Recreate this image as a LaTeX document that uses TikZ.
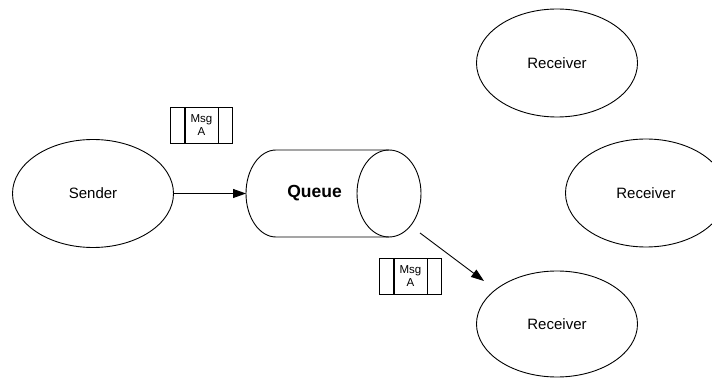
\documentclass[tikz,border=0pt]{standalone}
\usepackage{fontspec}
\setmainfont{Liberation Sans}
\usetikzlibrary{arrows.meta,shapes.geometric}
\tikzset{
  ell/.style={draw,ellipse,line width=0.9pt,inner sep=0pt,minimum width=161pt,minimum height=108pt,font=\fontsize{15}{17}\selectfont},
  conn/.style={line width=0.9pt,-{Triangle[length=13pt,width=9pt]}},
  msgcell/.style={draw,line width=0.9pt,minimum width=33pt,minimum height=36pt,inner sep=0pt,align=center,font=\fontsize{11.5}{12.5}\selectfont},
  sidecell/.style={draw,line width=0.9pt,minimum width=14pt,minimum height=36pt,inner sep=0pt},
  cyl/.style={line width=0.9pt}
}
\begin{document}
\begin{tikzpicture}[x=1pt,y=-1pt]
\useasboundingbox (0,0) rectangle (712,379);
% ellipses
\node[ell] (sender) at (93,193.5) {Sender};
\node[ell] (recv1) at (557,63) {Receiver};
\node[ell] (recv2) at (646,193) {Receiver};
\node[ell,minimum height=106pt] (recv3) at (557,324) {Receiver};
% queue cylinder
\draw[cyl] (389,150) -- (276,150) arc[start angle=90,end angle=270,x radius=30,y radius=-43.5] -- (389,237);
\draw[cyl] (389,193.5) ellipse[x radius=32,y radius=43.5];
\node[font=\bfseries\fontsize{17.5}{20}\selectfont] (queue) at (314.5,193.5) {Queue};
\coordinate (qin) at (246,193.5);
\coordinate (qout) at (420,233);
\coordinate (rin) at (484,281);
% connectors
\draw[conn] (sender.east) -- (qin);
\draw[conn] (qout) -- (rin);
% message boxes
\node[msgcell] (m1) at (201.5,125) {Msg\\A};
\node[sidecell,anchor=east] (m1l) at (m1.west) {};
\node[sidecell,anchor=west] (m1r) at (m1.east) {};
\node[msgcell] (m2) at (410.5,276) {Msg\\A};
\node[sidecell,anchor=east] (m2l) at (m2.west) {};
\node[sidecell,anchor=west] (m2r) at (m2.east) {};
\end{tikzpicture}
\end{document}
